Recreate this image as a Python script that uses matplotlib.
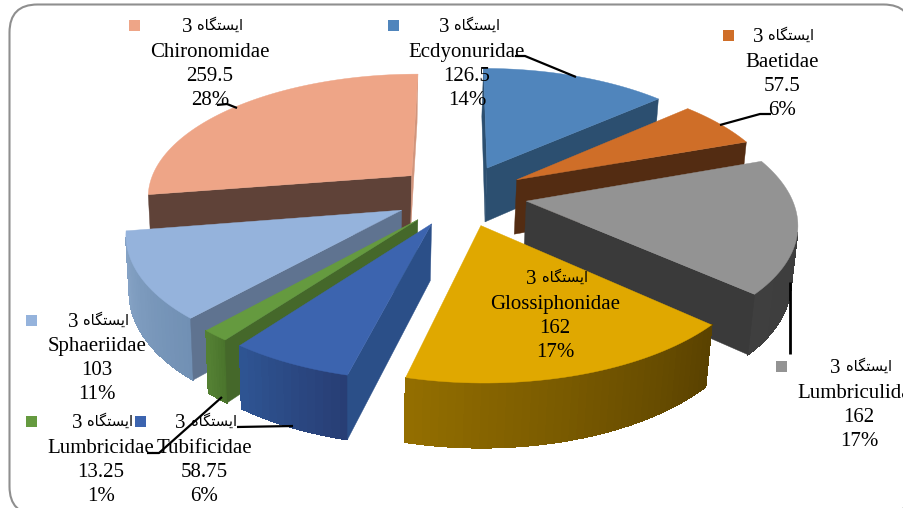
import numpy as np
import matplotlib
matplotlib.use("Agg")
import matplotlib.pyplot as plt
from matplotlib.collections import PolyCollection
from matplotlib.patches import FancyBboxPatch, Rectangle

# Benthic macroinvertebrate families at station 3, clockwise from the top
families = ["Ecdyonuridae", "Baetidae", "Lumbriculidae", "Glossiphonidae",
            "Tubificidae", "Lumbricidae", "Sphaeriidae", "Chironomidae"]
abundance = [126.5, 57.5, 162, 162, 58.75, 13.25, 103, 259.5]
value_labels = ["126.5", "57.5", "162", "162", "58.75", "13.25", "103", "259.5"]
percent_labels = ["14%", "6%", "17%", "17%", "6%", "1%", "11%", "28%"]
station_word = "ایستگاه"
station_number = "3"

top_colors = ["#5085BC", "#CF6E28", "#939393", "#E0A800",
              "#3C64AF", "#659A3F", "#95B3DC", "#EEA587"]
wall_colors = ["#2C4F70", "#532C12", "#3A3A3A", "#5C4300",
               "#2B4F88", "#45682A", "#5F7390", "#5F4238"]
# Closing side of each slice, lit differently on the largest slice
closing_wall_colors = ["#2C4F70", "#532C12", "#3A3A3A", "#5C4300",
                       "#2B4F88", "#45682A", "#5F7390", "#D2957C"]
# Rim shade at the clockwise start and end of each slice
rim_start = ["#2C4F70", "#532C12", "#3A3A3A", "#5A4200",
             "#283E75", "#4A742C", "#7190B4", "#5F4238"]
rim_end = ["#2C4F70", "#532C12", "#3F3F3F", "#936E00",
           "#2E5492", "#548033", "#87A4C6", "#5F4238"]
paint_order = [7, 0, 1, 2, 6, 5, 4, 3]

EXPLODE = 0.25
ROTATION = np.radians(-4.0)

# Perspective camera: unit-disc plane (u, v) plus drop z below the top face
CAM_X = (260.20134, 89.25016, 460.83474, 5.2)
CAM_Y = (6.80700, -92.39416, 195.09895, 59.0)
CAM_W = (-0.00924, 0.15383, 1.0, 0.0149)


def project(u, v, z):
    u, v = np.asarray(u, float), np.asarray(v, float)
    w = CAM_W[0] * u + CAM_W[1] * v + CAM_W[2] + CAM_W[3] * z
    x = CAM_X[0] * u + CAM_X[1] * v + CAM_X[2] + CAM_X[3] * z
    y = CAM_Y[0] * u + CAM_Y[1] * v + CAM_Y[2] + CAM_Y[3] * z
    return np.column_stack([x / w, y / w])


def signed_area(quad):
    x, y = quad[:, 0], quad[:, 1]
    return 0.5 * np.sum(x * np.roll(y, -1) - np.roll(x, -1) * y)


def shade(c0, c1, t):
    a, b = np.array(matplotlib.colors.to_rgb(c0)), np.array(matplotlib.colors.to_rgb(c1))
    return tuple(a + (b - a) * t)


def shape_persian(word):
    """Contextual forms in visual order, since text layout here has no shaping."""
    forms = {"ا": "\uFE8D\uFE8E", "ی": "\uFBFC\uFBFD\uFBFE\uFBFF",
             "س": "\uFEB1\uFEB2\uFEB3\uFEB4", "ت": "\uFE95\uFE96\uFE97\uFE98",
             "گ": "\uFB92\uFB93\uFB94\uFB95", "ه": "\uFEE9\uFEEA\uFEEB\uFEEC"}
    out = []
    for i, ch in enumerate(word):
        joins_prev = i > 0 and word[i - 1] != "ا"
        joins_next = i < len(word) - 1 and ch != "ا"
        idx = (1 if joins_prev else 0) + (2 if joins_next else 0)
        out.append(forms[ch][idx])
    return "".join(reversed(out))


fig = plt.figure(figsize=(9.04, 5.08), dpi=100)
ax = fig.add_axes([0, 0, 1, 1])
ax.set_xlim(0, 904)
ax.set_ylim(508, 0)
ax.axis("off")

ax.add_patch(FancyBboxPatch((9.5, 4.5), 902, 510,
                            boxstyle="round,pad=0,rounding_size=28",
                            fc="white", ec="#8F8F8F", lw=1.5))

values = np.array(abundance)
edges = np.concatenate([[0], np.cumsum(values)]) / values.sum() * 2 * np.pi + ROTATION


def draw_slice(i):
    t0, t1 = edges[i], edges[i + 1]
    mid = (t0 + t1) / 2
    ou, ov = EXPLODE * np.sin(mid), EXPLODE * np.cos(mid)
    th = np.linspace(t0, t1, max(8, int((t1 - t0) * 40)))
    ru, rv = ou + np.sin(th), ov + np.cos(th)

    apex_top = project(ou, ov, 0)[0]
    apex_bot = project(ou, ov, 1)[0]
    top = project(ru, rv, 0)
    bot = project(ru, rv, 1)

    polys, cols = [], []
    for j in range(len(th) - 1):
        quad = np.array([top[j], top[j + 1], bot[j + 1], bot[j]])
        if signed_area(quad) < 0:
            polys.append(quad)
            cols.append(shade(rim_start[i], rim_end[i], j / (len(th) - 2)))
    if polys:
        # Aliased strips leave no seams between neighbouring rim segments
        ax.add_collection(PolyCollection(polys, facecolors=cols, edgecolors=cols,
                                         linewidths=0.6, antialiaseds=False))

    for k, sign, palette in ((0, -1, wall_colors), (-1, 1, closing_wall_colors)):
        quad = np.array([apex_top, top[k], bot[k], apex_bot])
        if signed_area(quad) * sign > 0:
            ax.fill(*quad.T, color=palette[i], lw=0.3)

    ax.fill(*np.vstack([apex_top, top]).T, color=top_colors[i], lw=0.3)


for idx in paint_order:
    draw_slice(idx)

# Leader lines from the slices to their data labels
leaders = [
    [(515, 56), (525, 56), (576, 77)],
    [(771, 114), (760, 114), (720, 125)],
    [(790.5, 282), (790.5, 354)],
    [(237, 427), (293, 426)],
    [(147, 453), (159, 453), (222, 397)],
    [(217, 105), (227, 104), (237, 108)],
]
for path, width in zip(leaders, [1.6, 1.6, 2.0, 1.6, 1.6, 1.6]):
    ax.plot(*zip(*path), color="black", lw=width, solid_capstyle="butt")

# Data label layout per slice: key x, key/heading y, digit x, word right edge, text x, name y
label_layout = [
    (388, 25, 444, 500, 467, 50),
    (723, 35, 758, 814, 782, 60),
    (776, 366, 835, 892, 859, 391),
    (472, 277, 531, 588, 555, 302),
    (135, 421, 180, 237, 204, 446),
    (26, 421, 77, 133, 101, 446),
    (26, 320, 73, 129, 97, 344),
    (129, 25, 187, 243, 210, 50),
]
serif = dict(family="Liberation Serif", fontsize=15, color="black", ha="center", va="baseline")
word = shape_persian(station_word)
for i, (kx, hy, dx, wx, tx, ny) in enumerate(label_layout):
    ax.add_patch(Rectangle((kx, hy - 5.5), 11, 11, fc=top_colors[i], ec="none"))
    ax.text(dx, hy + 7, station_number, **serif)
    ax.text(wx, hy, word, family="DejaVu Sans", fontsize=10.5, color="black", ha="right", va="center")
    for line, dy in zip((families[i], value_labels[i], percent_labels[i]), (0, 24, 48)):
        ax.text(tx, ny + dy + 7, line, **serif)

fig.savefig("out.png", dpi=100)
